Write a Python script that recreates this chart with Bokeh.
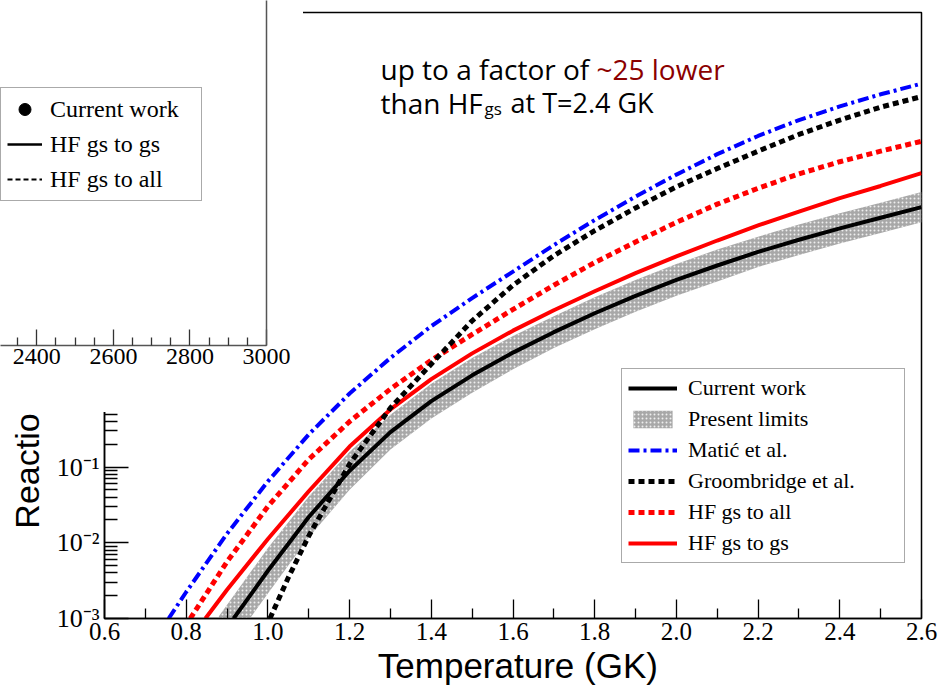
import numpy as np
from bokeh.plotting import figure
from bokeh.models import (Legend, LegendItem, FixedTicker, CustomJSTickFormatter,
                          NumeralTickFormatter, Label, LinearAxis)
from bokeh.embed import file_html
from bokeh.resources import INLINE

# ---------------- data (temperature in GK, log10 of reaction rate) ----------------
matic_T = [0.757, 0.8, 0.9, 1.0, 1.1, 1.2, 1.3, 1.4, 1.5, 1.6, 1.7, 1.8, 1.9, 2.0, 2.1, 2.2, 2.3, 2.4, 2.5, 2.6]
matic_log = [-3.0, -2.65, -1.88, -1.19, -0.57, -0.03, 0.44, 0.86, 1.23, 1.58, 1.93, 2.26, 2.57, 2.86, 3.13, 3.37, 3.58, 3.76, 3.92, 4.06]

hfall_T = [0.81, 0.9, 1.0, 1.1, 1.2, 1.3, 1.4, 1.5, 1.6, 1.7, 1.8, 1.9, 2.0, 2.1, 2.2, 2.3, 2.4, 2.5, 2.6]
hfall_log = [-3.0, -2.25, -1.52, -0.90, -0.40, 0.03, 0.41, 0.75, 1.08, 1.40, 1.70, 1.97, 2.23, 2.47, 2.68, 2.87, 3.03, 3.17, 3.30]

groom_T = [1.005, 1.05, 1.1, 1.2, 1.3, 1.4, 1.5, 1.6, 1.7, 1.8, 1.9, 2.0, 2.1, 2.2, 2.3, 2.4, 2.5, 2.6]
groom_log = [-3.0, -2.46, -1.91, -0.96, -0.22, 0.36, 0.93, 1.40, 1.79, 2.12, 2.42, 2.70, 2.94, 3.17, 3.39, 3.58, 3.75, 3.89]

hfgs_T = [0.847, 0.9, 1.0, 1.1, 1.2, 1.3, 1.4, 1.5, 1.6, 1.7, 1.8, 1.9, 2.0, 2.1, 2.2, 2.3, 2.4, 2.5, 2.6]
hfgs_log = [-3.0, -2.62, -1.95, -1.32, -0.73, -0.24, 0.16, 0.50, 0.80, 1.07, 1.32, 1.56, 1.78, 1.99, 2.19, 2.37, 2.55, 2.71, 2.88]

current_T = [0.916, 1.0, 1.1, 1.2, 1.3, 1.4, 1.5, 1.6, 1.7, 1.8, 1.9, 2.0, 2.1, 2.2, 2.3, 2.4, 2.5, 2.6]
current_log = [-3.0, -2.37, -1.66, -1.05, -0.54, -0.13, 0.21, 0.51, 0.78, 1.03, 1.26, 1.47, 1.66, 1.84, 2.00, 2.15, 2.29, 2.43]

band_T = [0.88, 0.916, 1.0, 1.1, 1.2, 1.3, 1.4, 1.5, 1.6, 1.7, 1.8, 1.9, 2.0, 2.1, 2.2, 2.3, 2.4, 2.5, 2.6]
band_low_log = [-3.57, -3.30, -2.67, -1.93, -1.30, -0.77, -0.36, -0.02, 0.29, 0.57, 0.82, 1.05, 1.26, 1.45, 1.64, 1.80, 1.95, 2.09, 2.23]
band_high_log = [-2.97, -2.70, -2.07, -1.39, -0.80, -0.31, 0.10, 0.44, 0.73, 0.99, 1.24, 1.47, 1.68, 1.87, 2.04, 2.20, 2.35, 2.49, 2.63]

x_major = [0.6, 0.8, 1.0, 1.2, 1.4, 1.6, 1.8, 2.0, 2.2, 2.4, 2.6]
x_minor = [0.7, 0.9, 1.1, 1.3, 1.5, 1.7, 1.9, 2.1, 2.3, 2.5]
y_exponents = [-3, -2, -1, 0, 1, 2, 3, 4, 5]

inset_x_major = [2400, 2600, 2800, 3000]
inset_x_minor = [2300, 2350, 2450, 2500, 2550, 2650, 2700, 2750, 2850, 2900, 2950]
# the inset's own data points/curves are not visible in the shown part of the inset
inset_energy = [float("nan")]
inset_current = [float("nan")]
inset_hf_gs = [float("nan")]
inset_hf_all = [float("nan")]


def rate(logs):
    return [10.0 ** v for v in logs]


SERIF = "Liberation Serif"
SANS = "Liberation Sans"

# ---------------- main figure ----------------
p = figure(width=941, height=689, x_range=(0.6, 2.6), y_range=(1e-3, 1e5),
           y_axis_type="log", output_backend="svg", toolbar_location=None,
           min_border_left=104, min_border_right=20, min_border_top=12, min_border_bottom=71)
p.xgrid.visible = False
p.ygrid.visible = False
p.outline_line_color = "black"
p.outline_line_width = 1.5
p.background_fill_color = "white"
p.border_fill_color = "white"

p.xaxis.ticker = FixedTicker(ticks=x_major, minor_ticks=x_minor)
p.xaxis.formatter = NumeralTickFormatter(format="0.0")
p.yaxis.ticker = FixedTicker(ticks=[10.0 ** e for e in y_exponents],
                             minor_ticks=[m * 10.0 ** e for e in y_exponents[:-1] for m in range(2, 10)])
p.yaxis.formatter = CustomJSTickFormatter(code="""
const sup = {'-':'\u207b','0':'\u2070','1':'\u00b9','2':'\u00b2','3':'\u00b3','4':'\u2074','5':'\u2075','6':'\u2076','7':'\u2077','8':'\u2078','9':'\u2079'};
const e = Math.round(Math.log10(tick));
return '10' + String(e).split('').map(c => sup[c]).join('');
""")
for ax in (p.xaxis[0], p.yaxis[0]):
    ax.axis_line_color = "black"
    ax.axis_line_width = 1.5
    ax.major_tick_line_color = "black"
    ax.minor_tick_line_color = "black"
    ax.major_tick_line_width = 1.3
    ax.minor_tick_line_width = 1.3
    ax.major_tick_out = 0
    ax.minor_tick_out = 0
    ax.major_label_text_font = SERIF
    ax.major_label_text_font_size = "25px"
    ax.major_label_text_color = "black"
    ax.axis_label_text_font = SANS
    ax.axis_label_text_font_style = "normal"
    ax.axis_label_text_color = "black"
p.xaxis.axis_label_text_font_size = "35px"
p.yaxis.axis_label_text_font_size = "34px"
p.yaxis.major_label_text_font_size = "26px"
p.xaxis.major_tick_in = 19
p.xaxis.minor_tick_in = 10
p.yaxis.major_tick_in = 24
p.yaxis.minor_tick_in = 13
p.xaxis.major_label_standoff = 4
p.xaxis.axis_label_standoff = 3
p.yaxis.major_label_standoff = 5
p.yaxis.axis_label_standoff = 8
p.xaxis.axis_label = "\u00a0Temperature (GK)"
p.yaxis.axis_label = "Reaction rate (cm\u00b3 mol\u207b\u00b9 s\u207b\u00b9)"

r_band = p.varea(x=band_T, y1=rate(band_low_log), y2=rate(band_high_log),
                 fill_color="#a8a8a8", hatch_pattern="dot", hatch_color="white",
                 hatch_scale=4, hatch_weight=1, hatch_alpha=0.8)
r_hfgs = p.line(hfgs_T, rate(hfgs_log), line_color="#ff0000", line_width=4)
r_hfall = p.line(hfall_T, rate(hfall_log), line_color="#ff0000", line_width=5, line_dash="6 4")
r_matic = p.line(matic_T, rate(matic_log), line_color="#0000ff", line_width=4, line_dash="11 4 3 4")
r_groom = p.line(groom_T, rate(groom_log), line_color="black", line_width=5, line_dash="6 4")
r_current = p.line(current_T, rate(current_log), line_color="black", line_width=4)

legend = Legend(items=[
    LegendItem(label="Current work", renderers=[r_current]),
    LegendItem(label="Present limits", renderers=[r_band]),
    LegendItem(label="Mati\u0107 et al.", renderers=[r_matic]),
    LegendItem(label="Groombridge et al.", renderers=[r_groom]),
    LegendItem(label="HF gs to all", renderers=[r_hfall]),
    LegendItem(label="HF gs to gs", renderers=[r_hfgs]),
], location=(517, 55))
legend.border_line_color = "#555555"
legend.border_line_width = 1.5
legend.background_fill_color = "white"
legend.background_fill_alpha = 1.0
legend.label_text_font = SERIF
legend.label_text_font_size = "22px"
legend.label_text_color = "black"
legend.glyph_width = 49
legend.glyph_height = 22
legend.label_height = 22
legend.spacing = 5
legend.padding = 6
legend.margin = 0
legend.label_standoff = 11
legend.label_width = 210
p.add_layout(legend)


# annotation text (screen units relative to frame bottom-left at page (104, 618))
def add_text(txt, px, py, size, color="black"):
    p.add_layout(Label(x=px - 104, y=618 - py, x_units="screen", y_units="screen", text=txt,
                       text_font="Open Sans", text_font_size=size, text_color=color,
                       text_baseline="alphabetic", text_align="left"))


add_text("up to a factor of", 380, 68, "28px")
add_text("~25 lower", 596, 68, "28px", "#8b0000")
add_text("than HF", 380, 102, "28px")
add_text("gs", 484, 108, "17px")
add_text("at T=2.4 GK", 510, 102, "27px")

# ---------------- inset figure (overlaid top-left) ----------------
inset = figure(width=303, height=412, x_range=(2305, 3000), y_range=(0, 1),
               output_backend="svg", toolbar_location=None, y_axis_location=None,
               min_border_left=0, min_border_top=0, min_border_right=37, min_border_bottom=67)
inset.xgrid.visible = False
inset.ygrid.visible = False
inset.outline_line_color = None
inset.background_fill_color = "white"
inset.border_fill_color = "white"
ix = inset.xaxis[0]
ix.ticker = FixedTicker(ticks=inset_x_major, minor_ticks=inset_x_minor)
ix.axis_line_color = "#555555"
ix.axis_line_width = 1.5
ix.major_tick_line_color = "#333333"
ix.minor_tick_line_color = "#333333"
ix.major_tick_line_width = 1.3
ix.minor_tick_line_width = 1.3
ix.major_tick_in = 16
ix.major_tick_out = 0
ix.minor_tick_in = 8
ix.minor_tick_out = 0
ix.major_label_text_font = SERIF
ix.major_label_text_font_size = "24px"
ix.major_label_text_color = "black"
ix.major_label_standoff = 3
right_ax = LinearAxis(ticker=FixedTicker(ticks=[]), axis_line_color="#555555", axis_line_width=1.5,
                      major_tick_line_color=None, minor_tick_line_color=None,
                      major_label_text_font_size="0px")
inset.add_layout(right_ax, "right")

ir_cur = inset.scatter(inset_energy, inset_current, size=9, color="black")
ir_gs = inset.line(inset_energy, inset_hf_gs, line_color="black", line_width=2.5)
ir_all = inset.line(inset_energy, inset_hf_all, line_color="black", line_width=2.2, line_dash="5 3")
ileg = Legend(items=[
    LegendItem(label="Current work", renderers=[ir_cur]),
    LegendItem(label="HF gs to gs", renderers=[ir_gs]),
    LegendItem(label="HF gs to all", renderers=[ir_all]),
], location=(0, 144))
ileg.border_line_color = "#555555"
ileg.border_line_width = 1.5
ileg.label_text_font = SERIF
ileg.label_text_font_size = "24px"
ileg.label_text_color = "black"
ileg.glyph_width = 35
ileg.glyph_height = 30
ileg.label_height = 30
ileg.spacing = 5
ileg.padding = 6
ileg.margin = 0
ileg.label_standoff = 8
ileg.label_width = 145
inset.add_layout(ileg)
inset.styles = {"position": "absolute", "left": "0px", "top": "0px", "z-index": "10"}

open("out.html", "w").write(file_html([inset, p], INLINE))
